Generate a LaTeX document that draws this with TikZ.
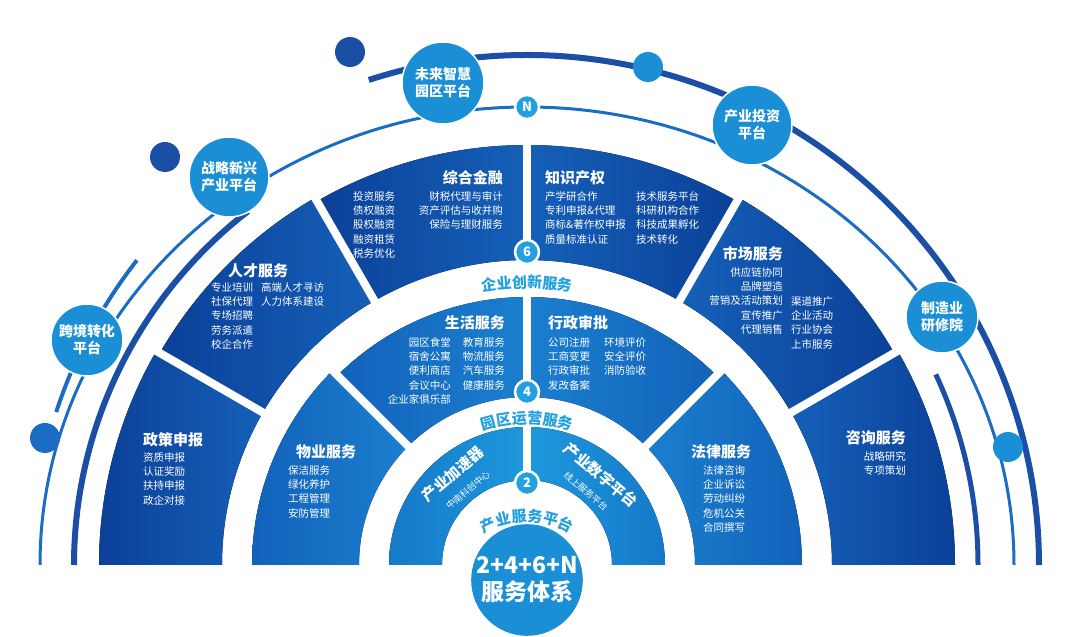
\documentclass[tikz,border=0pt]{standalone}
\usepackage{fontspec}
\setmainfont{Noto Sans CJK SC}
\usetikzlibrary{decorations.text}
\definecolor{darkBlue}{HTML}{0B4098}
\definecolor{midBlue}{HTML}{1560B8}
\definecolor{ringFour}{HTML}{1262BA}
\definecolor{ringFourLight}{HTML}{1B7FCF}
\definecolor{ringTwo}{HTML}{1479C9}
\definecolor{ringTwoLight}{HTML}{1E98DD}
\definecolor{skyBlue}{HTML}{1A8FD6}
\definecolor{lineBlue}{HTML}{1A4FA5}
\definecolor{thinBlue}{HTML}{1A6DC2}
\definecolor{labelBlue}{HTML}{22A0E0}
\tikzstyle{title}=[text = white, font = \bfseries\fontsize{15}{17}\selectfont, inner sep = 0pt]
\tikzstyle{items}=[text = white, font = \fontsize{10.5}{14.4}\selectfont, inner sep = 0pt]
\tikzstyle{platform}=[shape = circle, fill = skyBlue, draw = white, line width = 1.5pt, text = white, align = center, font = \bfseries\fontsize{14}{17}\selectfont, inner sep = 0pt]
\tikzstyle{badge}=[shape = circle, fill = labelBlue, draw = white, line width = 2.5pt, minimum size = 24pt, text = white, font = \bfseries\fontsize{13}{13}\selectfont, inner sep = 0pt]
\tikzstyle{dot}=[shape = circle, minimum size = 30pt, inner sep = 0pt]
\tikzstyle{gap}=[white, line width = 8pt]
\newcommand{\sector}[5]{\fill[shift = {(527,72)}, #1] (#4:#3) arc[start angle = #4, end angle = #5, radius = #3] -- (#5:#2) arc[start angle = #5, end angle = #4, radius = #2] -- cycle;}
\newcommand{\arclabel}[2]{\path[shift = {(527,72)}, decorate, decoration = {text along path, text align = center, text = {|\bfseries\fontsize{15}{15}\selectfont\color{labelBlue}|#2}}] (120:#1) arc[start angle = 120, end angle = 60, radius = #1];}

\begin{document}
\begin{tikzpicture}[x = 1pt, y = 1pt]
\useasboundingbox (0,0) rectangle (1080,637);
\coordinate (C) at (527,72);
% outer arcs
\draw[lineBlue, line width = 6pt] ([shift = {(108:512 and 510)}]C) arc[start angle = 108, end angle = 0, x radius = 512, y radius = 510];
\draw[thinBlue, line width = 3pt] ([shift = {(180:487 and 458)}]C) arc[start angle = 180, end angle = 0, x radius = 487, y radius = 458];
\draw[lineBlue, line width = 6pt] ([shift = {(180:453 and 449)}]C) arc[start angle = 180, end angle = 128, x radius = 453, y radius = 449];
\draw[thinBlue, line width = 4pt] ([shift = {(162:495)}]C) arc[start angle = 162, end angle = 142, radius = 495];
\draw[lineBlue, line width = 5pt] ([shift = {(0:451)}]C) arc[start angle = 0, end angle = 25, radius = 451];
% ring 6
\sector{left color = darkBlue, right color = midBlue}{305}{428}{150}{180}
\sector{left color = darkBlue, right color = midBlue}{305}{424}{120}{150}
\sector{left color = darkBlue, right color = midBlue}{305}{420}{90}{120}
\sector{left color = midBlue, right color = darkBlue}{305}{420}{60}{90}
\sector{left color = midBlue, right color = darkBlue}{305}{424}{30}{60}
\sector{left color = midBlue, right color = darkBlue}{305}{428}{0}{30}
% ring 4
\sector{left color = ringFour, right color = ringFourLight}{168}{275}{135}{180}
\sector{left color = ringFour, right color = ringFourLight}{168}{268}{90}{135}
\sector{left color = ringFourLight, right color = ringFour}{168}{268}{45}{90}
\sector{left color = ringFourLight, right color = ringFour}{168}{275}{0}{45}
% ring 2
\sector{left color = ringTwo, right color = ringTwoLight}{85}{138}{90}{180}
\sector{left color = ringTwoLight, right color = ringTwo}{85}{138}{0}{90}
\foreach \a in {30,60,90,120,150}
  \draw[gap] ([shift = {(\a:300)}]C) -- ([shift = {(\a:435)}]C);
\foreach \a in {45,90,135}
  \draw[gap] ([shift = {(\a:165)}]C) -- ([shift = {(\a:280)}]C);
\draw[gap] ([shift = {(90:82)}]C) -- ([shift = {(90:140)}]C);
% centre
\node[shape = circle, minimum size = 106pt, fill = skyBlue, inner sep = 0pt, text = white, align = center, font = \bfseries\fontsize{23}{27}\selectfont] (core) at (527,57) {2+4+6+N\\服务体系};
\path[decorate, decoration = {text along path, text align = center, text = {|\bfseries\fontsize{15}{15}\selectfont\color{labelBlue}|产业服务平台}}] ([shift = {(128:86)}]527,29) arc[start angle = 128, end angle = 52, radius = 86];
\arclabel{141}{园区运营服务}
\arclabel{277}{企业创新服务}
\node[badge] (b2) at (527,154) {2};
\node[badge] (b4) at (527,245) {4};
\node[badge] (b6) at (527,385) {6};
\node[badge] (bN) at (527,530) {N};
% ring 2 texts
\node[title, rotate = 40, font = \bfseries\fontsize{15}{15}\selectfont] (accel) at (453,163) {产业加速器};
\node[items, rotate = 40, font = \fontsize{9}{9}\selectfont] (accelSub) at (468,147) {中南科创中心};
\node[title, rotate = -40, font = \bfseries\fontsize{15}{15}\selectfont] (digital) at (601,162) {产业数字平台};
\node[items, rotate = -40, font = \fontsize{9}{9}\selectfont] (digitalSub) at (586,146) {线上服务平台};
% ring 4 texts
\node[title, anchor = west] (wuye) at (296,185) {物业服务};
\node[items, anchor = north west, align = left] (wuyeList) at (288,172) {保洁服务\\绿化养护\\工程管理\\安防管理};
\node[title, anchor = east] (life) at (505,314) {生活服务};
\node[items, anchor = north east, align = right] (lifeListA) at (451,300) {园区食堂\\宿舍公寓\\便利商店\\会议中心\\企业家俱乐部};
\node[items, anchor = north east, align = right] (lifeListB) at (505,300) {教育服务\\物流服务\\汽车服务\\健康服务};
\node[title, anchor = west] (admin) at (548,314) {行政审批};
\node[items, anchor = north west, align = left] (adminListA) at (548,300) {公司注册\\工商变更\\行政审批\\发改备案};
\node[items, anchor = north west, align = left] (adminListB) at (604,300) {环境评价\\安全评价\\消防验收};
\node[title, anchor = west] (law) at (691,185) {法律服务};
\node[items, anchor = north west, align = left] (lawList) at (703,172) {法律咨询\\企业诉讼\\劳动纠纷\\危机公关\\合同撰写};
% ring 6 texts
\node[title, anchor = west] (policy) at (143,197) {政策申报};
\node[items, anchor = north west, align = left] (policyList) at (143,185) {资质申报\\认证奖励\\扶持申报\\政企对接};
\node[title, anchor = west] (talent) at (228,366) {人才服务};
\node[items, anchor = north west, align = left] (talentListA) at (211,355) {专业培训\\社保代理\\专场招聘\\劳务派遣\\校企合作};
\node[items, anchor = north west, align = left] (talentListB) at (261,355) {高端人才寻访\\人力体系建设};
\node[title, anchor = east] (finance) at (503,459) {综合金融};
\node[items, anchor = north west, align = left] (financeListA) at (353,446) {投资服务\\债权融资\\股权融资\\融资租赁\\税务优化};
\node[items, anchor = north east, align = right] (financeListB) at (503,446) {财税代理与审计\\资产评估与收并购\\保险与理财服务};
\node[title, anchor = west] (ip) at (545,459) {知识产权};
\node[items, anchor = north west, align = left] (ipListA) at (545,446) {产学研合作\\专利申报\&代理\\商标\&著作权申报\\质量标准认证};
\node[items, anchor = north west, align = left] (ipListB) at (636,446) {技术服务平台\\科研机构合作\\科技成果孵化\\技术转化};
\node[title, anchor = east] (market) at (783,383) {市场服务};
\node[items, anchor = north east, align = right] (marketListA) at (783,370) {供应链协同\\品牌塑造\\营销及活动策划\\宣传推广\\代理销售};
\node[items, anchor = north west, align = left] (marketListB) at (791,341) {渠道推广\\企业活动\\行业协会\\上市服务};
\node[title, anchor = east] (consult) at (906,199) {咨询服务};
\node[items, anchor = north east, align = right] (consultList) at (906,186) {战略研究\\专项策划};
% platforms and dots
\node[dot, fill = lineBlue] (dotA) at (350,585) {};
\node[dot, fill = skyBlue] (dotB) at (648,570) {};
\node[dot, fill = lineBlue] (dotC) at (165,480) {};
\node[dot, fill = thinBlue] (dotD) at (45,199) {};
\node[dot, fill = skyBlue] (dotE) at (1008,190) {};
\node[platform, minimum size = 82pt] (future) at (443,554) {未来智慧\\园区平台};
\node[platform, minimum size = 80pt] (invest) at (752,512) {产业投资\\平台};
\node[platform, minimum size = 80pt] (emerging) at (229,460) {战略新兴\\产业平台};
\node[platform, minimum size = 72pt] (cross) at (87,297) {跨境转化\\平台};
\node[platform, minimum size = 72pt] (manuf) at (942,320) {制造业\\研修院};
\end{tikzpicture}
\end{document}
